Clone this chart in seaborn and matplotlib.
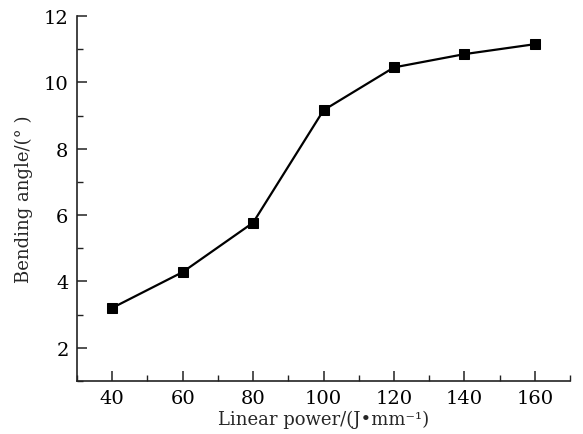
import matplotlib
matplotlib.use("Agg")
import matplotlib.pyplot as plt
import seaborn as sns
import pandas as pd
from matplotlib.ticker import MultipleLocator

linear_power = [40, 60, 80, 100, 120, 140, 160]
bending_angle = [3.2, 4.28, 5.77, 9.16, 10.45, 10.85, 11.15]

sns.set_style("ticks")
plt.rcParams['font.family'] = ['DejaVu Serif']

df = pd.DataFrame({"x": linear_power, "y": bending_angle})

fig = plt.figure(figsize=(5.83, 4.35), dpi=100)
ax = fig.add_axes([0.132, 0.122, 0.846, 0.839])
sns.lineplot(data=df, x="x", y="y", ax=ax, color="black", marker="s",
             markersize=7, linewidth=1.6, markeredgecolor="black")

ax.set_xlim(30, 170)
ax.set_ylim(1, 12)
ax.set_xticks([40, 60, 80, 100, 120, 140, 160])
ax.set_yticks([2, 4, 6, 8, 10, 12])
ax.xaxis.set_minor_locator(MultipleLocator(10))
ax.yaxis.set_minor_locator(MultipleLocator(1))

for s in ["top", "right"]:
    ax.spines[s].set_visible(False)
for s in ["left", "bottom"]:
    ax.spines[s].set_linewidth(1.2)
    ax.spines[s].set_color("#222222")

ax.tick_params(which="major", direction="in", length=7, width=1.1, pad=6,
               labelsize=14, colors="#222222", labelcolor="black")
ax.tick_params(which="minor", direction="in", length=4, width=1.0, colors="#222222")

ax.set_xlabel("Linear power/(J\u2022mm\u207b\u00b9)", fontsize=13, labelpad=2)
ax.set_ylabel("Bending angle/(\u00b0 )", fontsize=13, labelpad=8)

fig.savefig("out.png", dpi=100)
